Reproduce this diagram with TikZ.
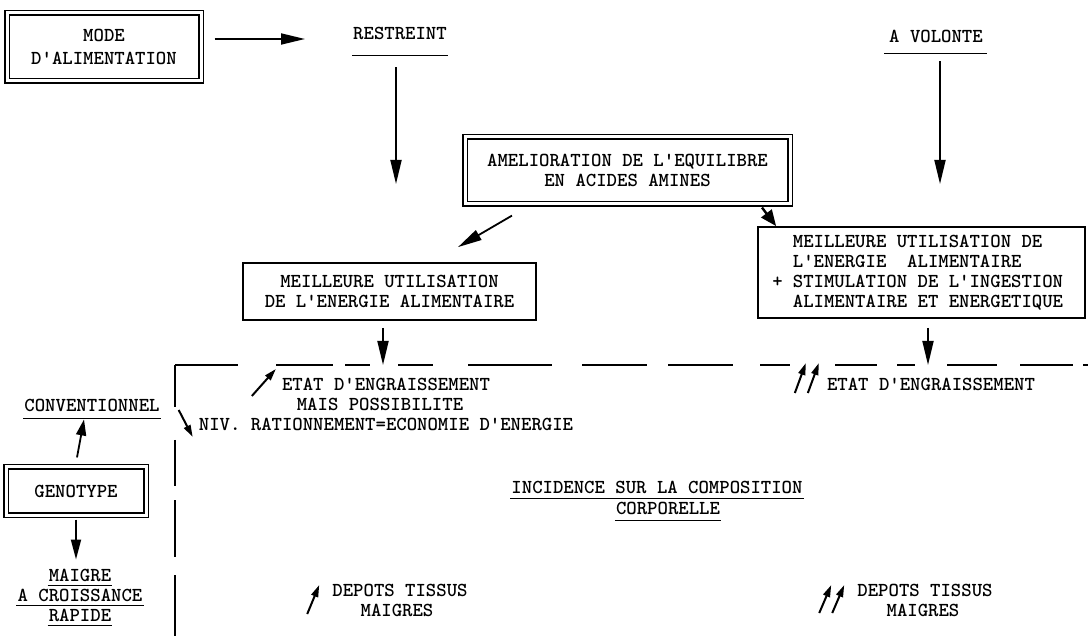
\documentclass[tikz,border=0pt]{standalone}
\usepackage{tikz}
\usetikzlibrary{arrows.meta,positioning}

\begin{document}
\begin{tikzpicture}
 [x=1pt,y=-1pt,
  every node/.style={font=\ttfamily\bfseries\fontsize{19.8}{20}\selectfont, inner sep=2pt},
  double box/.style={draw, double, line width=1.2pt, double distance=3pt, align=center},
  single box/.style={draw, line width=1.8pt},
  text line/.style={inner xsep=1pt},
  big arrow/.style={line width=1.8pt, -{Triangle[length=24pt,width=11pt]}},
  small arrow/.style={line width=2pt, -{Triangle[length=12pt,width=7pt]}},
  under line/.style={line width=1.5pt},
  frame line/.style={line width=1.3pt}]
\useasboundingbox (0,0) rectangle (1088,636);

% boxes
\node[double box, minimum width=194pt, minimum height=68pt] (mode) at (104,47) {MODE\\[3pt]D'ALIMENTATION};
\node[double box, minimum width=325pt, minimum height=67pt] (amelio) at (627.5,170.5) {AMELIORATION DE L'EQUILIBRE\\EN ACIDES AMINES};
\node[single box, align=center, minimum width=293pt, minimum height=57pt] (meil) at (389.5,291.5) {MEILLEURE UTILISATION\\DE L'ENERGIE ALIMENTAIRE};
\node[single box, align=left, minimum width=327pt, minimum height=91pt] (stim) at (921.5,272.5)
  {\hspace*{13pt}MEILLEURE UTILISATION DE\\
   \hspace*{13pt}L'ENERGIE~~ALIMENTAIRE\\
   \hspace*{13pt}\llap{+\hspace{10pt}}STIMULATION DE L'INGESTION\\
   \hspace*{13pt}ALIMENTAIRE ET ENERGETIQUE};
\node[double box, minimum width=140pt, minimum height=48pt] (genotype) at (76,491) {GENOTYPE};

% texts
\node[text line] (restreint) at (400,33) {RESTREINT};
\node[text line] (volonte) at (936,36) {A VOLONTE};
\node[text line] (conv) at (92,405) {CONVENTIONNEL};
\node[text line] (maigre) at (80,575) {MAIGRE};
\node[text line] (croiss) [node distance=20pt, below of=maigre] {A CROISSANCE};
\node[text line] (rapide) [node distance=20pt, below of=croiss] {RAPIDE};

\node (etat) at (386,384) {ETAT D'ENGRAISSEMENT};
\node (mais) [node distance=20pt, below of=etat, xshift=-6pt] {MAIS POSSIBILITE};
\node (niv) [node distance=40pt, below of=etat] {NIV. RATIONNEMENT=ECONOMIE D'ENERGIE};
\node (etatr) at (931,384) {ETAT D'ENGRAISSEMENT};

\node[text line] (inc) at (657,487) {INCIDENCE SUR LA COMPOSITION};
\node[text line] (corp) at (668,508) {CORPORELLE};

\node (depl) at (400,590) {DEPOTS TISSUS};
\node (depl2) [node distance=20pt, below of=depl, xshift=-3pt] {MAIGRES};
\node (depr) at (925,590) {DEPOTS TISSUS};
\node (depr2) [node distance=20pt, below of=depr, xshift=-2pt] {MAIGRES};

% free ends
\coordinate (mtip) at (305,39);
\coordinate (rtip) at (396,184);
\coordinate (vtip) at (940,184);
\coordinate (corner) at (175,365);

% underlines
\draw[under line]
  ([yshift=-14pt]restreint.south west) -- ([yshift=-14pt]restreint.south east)
  ([yshift=-9pt,xshift=-4pt]volonte.south west) -- ([yshift=-9pt,xshift=3pt]volonte.south east)
  ([yshift=-5pt]conv.south west) -- ([yshift=-5pt]conv.south east)
  ([yshift=-2pt]maigre.south west) -- ([yshift=-2pt]maigre.south east)
  ([yshift=-2pt]croiss.south west) -- ([yshift=-2pt]croiss.south east)
  ([yshift=-2pt]rapide.south west) -- ([yshift=-2pt]rapide.south east)
  ([yshift=-3pt]inc.south west) -- ([yshift=-3pt]inc.south east)
  ([yshift=-4pt]corp.south west) -- ([yshift=-4pt]corp.south east);

% frame
\draw[frame line, dash pattern=on 63pt off 38pt on 57pt off 12pt on 25pt off 28pt on 35pt off 35pt
  on 84pt off 30pt on 65pt off 21pt on 65pt off 27pt on 30pt off 45pt on 42pt off 20pt
  on 18pt off 32pt on 50pt off 23pt on 53pt off 10pt on 20pt off 0pt]
  (corner) -- (1088,365);
\draw[frame line, dash pattern=on 42pt off 33pt on 46pt off 14pt on 57pt off 18pt on 70pt off 0pt]
  (corner) -- (175,636);

% connectors
\draw[big arrow] ([xshift=13pt,yshift=8pt]mode.east) -- (mtip);
\draw[big arrow] ([xshift=-4pt,yshift=-26pt]restreint.south) -- (rtip);
\draw[big arrow] ([xshift=4pt,yshift=-17pt]volonte.south) -- (vtip);
\draw[big arrow] ([xshift=-115.5pt,yshift=-11pt]amelio.south) -- ([xshift=68.5pt,yshift=15pt]meil.north);
\draw[big arrow, line width=2.4pt, -{Triangle[length=16pt,width=13pt]}] ([xshift=134.5pt,yshift=-3pt]amelio.south) -- ([xshift=19pt]stim.north west);
\draw[big arrow] ([xshift=-6.5pt,yshift=-7pt]meil.south) -- ([xshift=-6.5pt]meil.south |- corner);
\draw[big arrow] ([xshift=6.5pt,yshift=-9pt]stim.south) -- ([xshift=6.5pt]stim.south |- corner);
\draw[big arrow, -{Triangle[length=16pt,width=10pt]}] ([xshift=1pt,yshift=9pt]genotype.north) -- ([xshift=-8pt,yshift=-6pt]conv.south);
\draw[big arrow, -{Triangle[length=20pt,width=10pt]}] ([yshift=-4pt]genotype.south) -- ([xshift=-4pt,yshift=7pt]maigre.north);

% small marks
\draw[small arrow] ([xshift=-28pt,yshift=-12pt]etat.west) -- ([xshift=-4pt,yshift=15pt]etat.west);
\draw[small arrow] ([xshift=-18pt,yshift=14pt]niv.west) -- ([xshift=-4pt,yshift=-13pt]niv.west);
\draw[small arrow] ([xshift=-30pt,yshift=-9pt]etatr.west) -- ([xshift=-19pt,yshift=21pt]etatr.west);
\draw[small arrow] ([xshift=-17pt,yshift=-9pt]etatr.west) -- ([xshift=-6pt,yshift=21pt]etatr.west);
\draw[small arrow] ([xshift=-23pt,yshift=-24pt]depl.west) -- ([xshift=-11pt,yshift=5pt]depl.west);
\draw[small arrow] ([xshift=-36pt,yshift=-23pt]depr.west) -- ([xshift=-24pt,yshift=5pt]depr.west);
\draw[small arrow] ([xshift=-23pt,yshift=-23pt]depr.west) -- ([xshift=-11pt,yshift=5pt]depr.west);

\end{tikzpicture}
\end{document}
